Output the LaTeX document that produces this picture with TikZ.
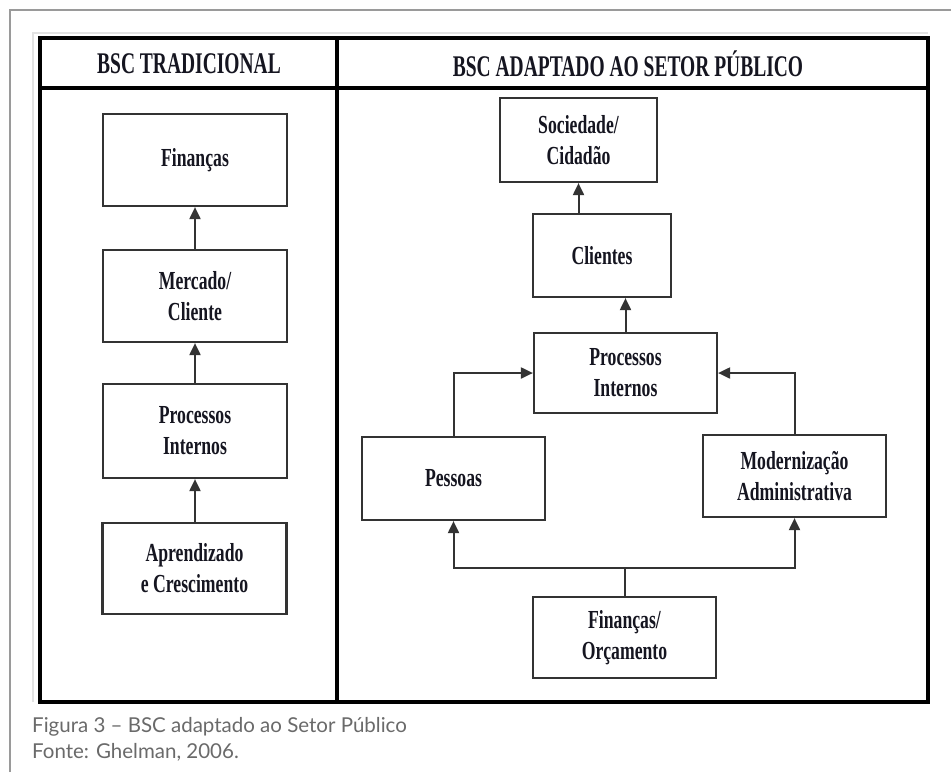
\documentclass[tikz,border=0pt]{standalone}
\usepackage{fontspec}
\setmainfont{Liberation Serif}
\newfontfamily\hdfont{Liberation Serif}[FakeStretch=0.65]
\newfontfamily\boxfont{Liberation Serif}[FakeStretch=0.68]
\newfontfamily\capfont{Lato}
\usetikzlibrary{arrows.meta}
\definecolor{framegray}{HTML}{9A9A9A}
\definecolor{edgegray}{HTML}{E2E2E2}
\definecolor{boxline}{HTML}{333333}
\definecolor{captext}{HTML}{6A6A6A}
\definecolor{ink}{HTML}{151520}
\tikzset{
  stagebox/.style={draw=boxline, line width=2.2pt, fill=white, align=center,
    inner sep=0pt, text=ink, font=\boxfont\bfseries\fontsize{26}{31}\selectfont},
  flow/.style={draw=boxline, line width=2pt,
    -{Triangle[length=12pt,width=11pt]}},
  link/.style={draw=boxline, line width=2pt},
  tableline/.style={line width=4pt, draw=black},
  headtext/.style={text=ink, font=\hdfont\bfseries\fontsize{30}{32}\selectfont},
  captiontext/.style={text=captext, font=\capfont\fontsize{20.5}{24}\selectfont,
    anchor=base west, inner sep=0pt}
}
\begin{document}
\begin{tikzpicture}[x=1pt,y=-1pt]
\useasboundingbox (0,0) rectangle (951,772);
\fill[white] (0,0) rectangle (951,772);

% outer page frame (top and left edges only)
\draw[framegray, line width=2pt] (10,772) -- (10,10) -- (951,10);
% faint edge of the inserted figure
\draw[edgegray, line width=1.2pt] (33,702) -- (33,33) -- (928,33);

% table
\draw[tableline] (40,38) rectangle (928,702);
\draw[tableline] (40,88) -- (928,88);
\draw[tableline] (337,38) -- (337,702);

\node[headtext] (h1) at (189,64) {BSC TRADICIONAL};
\node[headtext] (h2) at (628,64) {BSC ADAPTADO AO SETOR PÚBLICO};

% traditional BSC column
\node[stagebox, minimum width=184pt, minimum height=92pt] (lf) at (195,160) {Finanças};
\node[stagebox, minimum width=184pt, minimum height=92pt] (lm) at (195,296) {Mercado/\\Cliente};
\node[stagebox, minimum width=184pt, minimum height=94pt] (lp) at (195,431) {Processos\\Internos};
\node[stagebox, minimum width=184pt, minimum height=91pt] (la) at (194.5,568.5) {Aprendizado\\e Crescimento};

\draw[flow] (lp.south |- la.north) -- (lp.south);
\draw[flow] (lp.north) -- (lm.south);
\draw[flow] (lm.north) -- (lf.south);

% public-sector BSC column
\node[stagebox, minimum width=157pt, minimum height=84pt] (soc) at (578.5,140) {Sociedade/\\Cidadão};
\node[stagebox, minimum width=138pt, minimum height=83pt] (cli) at (602,255.5) {Clientes};
\node[stagebox, minimum width=183pt, minimum height=80pt] (pi) at (625.5,373) {Processos\\Internos};
\node[stagebox, minimum width=183pt, minimum height=83pt] (pes) at (453.5,478.5) {Pessoas};
\node[stagebox, minimum width=183pt, minimum height=82pt] (mod) at (794.5,476) {Modernização\\Administrativa};
\node[stagebox, minimum width=183pt, minimum height=81pt] (fo) at (624.5,637.5) {Finanças/\\Orçamento};

\draw[flow] (pi.north) -- (pi.north |- cli.south);
\draw[flow] (cli.north -| soc.south) -- (soc.south);
\draw[flow] (pes.north) |- (pi.west);
\draw[flow] (mod.north) |- (pi.east);

\coordinate (split) at (624.5,568);
\draw[link] (fo.north) -- (split);
\draw[flow] (split) -| (pes.south);
\draw[flow] (split) -| (mod.south);

% caption
\node[captiontext] (cap1) at (32,732) {Figura 3 – BSC adaptado ao Setor Público};
\node[captiontext] (cap2) at (32,758) {Fonte: Ghelman, 2006.};
\end{tikzpicture}
\end{document}
